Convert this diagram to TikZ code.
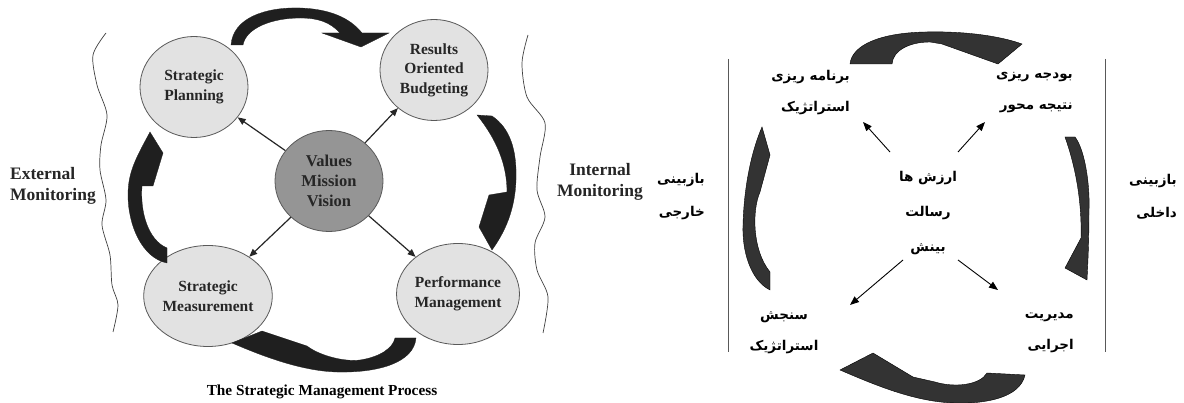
\documentclass[tikz,border=0pt]{standalone}
\usepackage{fontspec}
\setmainfont{Liberation Serif}
\newfontfamily\fa[Script=Arabic]{DejaVu Sans}
\TeXXeTstate=1
\usetikzlibrary{shapes.geometric,arrows.meta}
\newcommand{\RT}[1]{\beginR #1\endR}
\definecolor{bubfill}{HTML}{E2E2E2}
\definecolor{corefill}{HTML}{959595}
\definecolor{inkc}{HTML}{262626}
\begin{document}
\begin{tikzpicture}[x=1pt,y=-1pt,
 bub/.style={ellipse, draw=black!65, line width=0.8pt, fill=bubfill, minimum width=108pt, minimum height=101pt, inner sep=0pt, align=center, text=inkc, font=\bfseries\fontsize{15.5}{19.5}\selectfont},
 core/.style={bub, fill=corefill, font=\bfseries\fontsize{16.5}{20}\selectfont},
 lbl/.style={text=inkc, font=\bfseries\fontsize{17.5}{21}\selectfont, inner sep=0pt},
 spoke/.style={draw=inkc, line width=1.2pt, -{Triangle[length=8pt,width=6.5pt]}},
 bigarrow/.style={fill=black!88, draw=black!88, line width=0.3pt},
 wave/.style={draw=black!75, line width=0.7pt},
 fatxt/.style={inner sep=0pt, font=\fa\bfseries\fontsize{13.5}{31}\selectfont},
 faarrow/.style={draw=black, line width=0.9pt, -{Triangle[length=9pt,width=7pt]}},
 faband/.style={fill=black!80, draw=black, line width=0.4pt},
 sepline/.style={draw=black!65, line width=1pt}
]
\useasboundingbox (0,0) rectangle (1184,403);
\fill[white] (0,0) rectangle (1184,403);

% ---------------- left (English) diagram ----------------
\node[bub] (sp) at (194,87) {Strategic\\Planning};
\node[bub] (rob) at (434,70) {Results\\Oriented\\Budgeting};
\node[core] (vmv) at (329,181) {Values\\Mission\\Vision};
\node[bub] (sm) at (208,296) {Strategic\\Measurement};
\node[bub] (pm) at (458,294) {Performance\\Management};

\draw[spoke] (vmv) -- (sp);
\draw[spoke] (vmv) -- (rob);
\draw[spoke] (vmv) -- (sm);
\draw[spoke] (vmv) -- (pm);

% thick curved arrows
\path[bigarrow] (231,45) .. controls (233,18) and (265,7) .. (300,8) .. controls (330,9) and (350,18) .. (362,33) -- (389,33) -- (361,47) -- (322,33) -- (340,33) .. controls (330,22) and (318,18) .. (300,18) .. controls (272,18) and (246,28) .. (243,45) -- cycle;
\path[bigarrow] (477,115) -- (492,116) .. controls (510,128) and (517,150) .. (516,180) .. controls (515,210) and (505,232) .. (492,250) -- (479,227) -- (489,195) -- (507,192) .. controls (507,165) and (497,140) .. (477,115) -- cycle;
\path[bigarrow] (395,338) -- (416,338) .. controls (414,362) and (380,373) .. (337,372) .. controls (300,371) and (260,355) .. (232,343) -- (262,331) -- (307,346) .. controls (320,356) and (345,362) .. (360,360) .. controls (380,357) and (393,348) .. (395,338) -- cycle;
\path[bigarrow] (167,248) -- (167,263) .. controls (142,258) and (128,225) .. (128,195) .. controls (128,172) and (136,158) .. (150,132) -- (163,153) -- (153,186) -- (142,186) .. controls (140,212) and (148,240) .. (167,248) -- cycle;

% wavy boundaries
\draw[wave] plot[smooth] coordinates {(106,33) (93,55) (97,85) (107,115) (101,145) (100,170) (106,200) (102,225) (110,255) (112,285) (118,305) (113,332)};
\draw[wave] plot[smooth] coordinates {(528,35) (522,63) (527,97) (545,123) (540,157) (537,190) (545,217) (535,243) (537,270) (548,297) (543,333)};

\node[lbl, align=left, anchor=west] (ext) at (10,186) {External\\Monitoring};
\node[lbl, align=center] (int) at (600,182) {Internal\\Monitoring};
\node[lbl, font=\bfseries\fontsize{15.3}{18}\selectfont, text=black] (title) at (322,392) {The Strategic Management Process};

% ---------------- right (Persian) diagram ----------------
\draw[sepline] (728,59) -- (728,352);
\draw[sepline] (1105,59) -- (1105,352);

\node[fatxt, align=right, anchor=east] (ftl) at (850,93) {\RT{برنامه ریزی}\\\RT{استراتژیک}};
\node[fatxt, align=right, anchor=east] (ftr) at (1073,93) {\RT{بودجه ریزی}\\\RT{نتیجه محور}};
\node[fatxt, align=center, font=\fa\bfseries\fontsize{13.5}{35}\selectfont] (fc) at (928,213) {\RT{ارزش ها}\\\RT{رسالت}\\\RT{بینش}};
\node[fatxt, align=center] (fbl) at (784,333) {\RT{سنجش}\\\RT{استراتژیک}};
\node[fatxt, align=right, anchor=east] (fbr) at (1074,333) {\RT{مدیریت}\\\RT{اجرایی}};
\node[fatxt, align=right, anchor=east, font=\fa\bfseries\fontsize{13.5}{33}\selectfont] (fext) at (705,197) {\RT{بازبینی}\\\RT{خارجی}};
\node[fatxt, align=right, anchor=east, font=\fa\bfseries\fontsize{13.5}{33}\selectfont] (fint) at (1177,197) {\RT{بازبینی}\\\RT{داخلی}};

\coordinate (c1s) at (890,152); \coordinate (c1e) at (863,122);
\coordinate (c2s) at (958,152); \coordinate (c2e) at (985,122);
\coordinate (c3s) at (903,260); \coordinate (c3e) at (850,305);
\coordinate (c4s) at (958,260); \coordinate (c4e) at (998,290);
\draw[faarrow] (c1s) -- (c1e);
\draw[faarrow] (c2s) -- (c2e);
\draw[faarrow] (c3s) -- (c3e);
\draw[faarrow] (c4s) -- (c4e);

\path[faband] (850,64) -- (892,64) .. controls (893,50) and (910,42) .. (930,42) -- (942,44) -- (998,64) -- (1022,44) .. controls (1000,36) and (965,31) .. (925,32) .. controls (880,33) and (852,45) .. (850,64) -- cycle;
\path[faband] (1065,137) -- (1075,137) .. controls (1085,150) and (1090,185) .. (1089,210) .. controls (1089,240) and (1088,260) .. (1087,280) -- (1065,268) -- (1081,238) .. controls (1082,200) and (1075,165) .. (1065,137) -- cycle;
\path[faband] (987,373) -- (1025,375) .. controls (1020,398) and (985,404) .. (955,403) .. controls (915,402) and (875,385) .. (840,370) -- (873,353) -- (913,377) -- (935,382) .. controls (955,388) and (980,385) .. (987,373) -- cycle;
\path[faband] (770,272) -- (770,290) .. controls (750,280) and (742,250) .. (743,225) .. controls (744,185) and (752,150) .. (762,127) -- (770,155) -- (760,192) .. controls (752,210) and (752,250) .. (770,272) -- cycle;
\end{tikzpicture}
\end{document}
